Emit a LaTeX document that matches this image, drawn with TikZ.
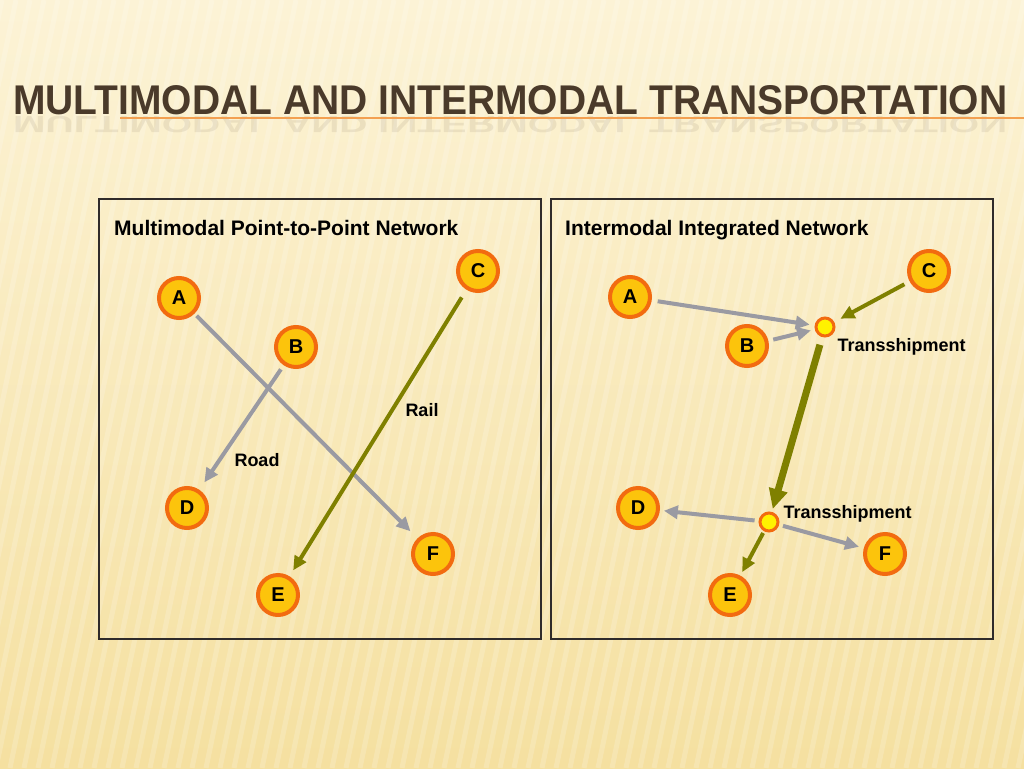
\documentclass[tikz,border=0pt]{standalone}
\usepackage{fontspec}
\setmainfont{Liberation Sans}
\usepackage{graphicx}
\usepackage{tikz}
\usetikzlibrary{arrows.meta}

\definecolor{bgtop}{HTML}{FCF3D6}
\definecolor{bgbot}{HTML}{F5E0A0}
\definecolor{titlebrown}{HTML}{4A3A2A}
\definecolor{ringorange}{HTML}{F26B10}
\definecolor{cityfill}{HTML}{FCC40C}
\definecolor{hubfill}{HTML}{FFF200}
\definecolor{roadgray}{HTML}{9A9AA2}
\definecolor{railolive}{HTML}{7F8000}
\definecolor{framegray}{HTML}{2F2B2B}

\begin{document}
\begin{tikzpicture}[x=1pt, y=-1pt,
	city/.style = {draw=ringorange, fill=cityfill, circle, line width=4pt, minimum size=40pt, inner sep=0pt, font=\bfseries\fontsize{20}{20}\selectfont},
	hub/.style = {draw=ringorange, fill=hubfill, circle, line width=3pt, minimum size=18pt, inner sep=0pt},
	road/.style = {draw=roadgray, line width=4pt, -{Triangle[length=14pt,width=13pt]}},
	rail/.style = {draw=railolive, line width=4pt, -{Triangle[length=14pt,width=13pt]}},
	label/.style = {font=\bfseries\fontsize{18}{18}\selectfont},
	panel/.style = {draw=framegray, line width=2pt}]
	% background
	\useasboundingbox (0,0) rectangle (1024,768);
	\fill[top color=bgtop, bottom color=bgbot] (0,0) rectangle (1024,768);
	\begin{scope}
		\clip (0,0) rectangle (1024,768);
		\foreach \x in {-200,-186,...,1100}
			\draw[white, opacity=0.18, line width=5pt] (\x,768) -- (\x+160,0);
	\end{scope}
	% title
	\node (title) [anchor=base west, inner sep=0pt] at (13,114) {\resizebox{994pt}{29pt}{\bfseries\color{titlebrown}MULTIMODAL AND INTERMODAL TRANSPORTATION}};
	\node (mirror) [anchor=base west, inner sep=0pt, opacity=0.09] at (13,116) {\resizebox{994pt}{!}{\scalebox{1}[-0.6]{\bfseries\color{titlebrown}MULTIMODAL AND INTERMODAL TRANSPORTATION}}};
	\draw[color=ringorange!55!bgbot, line width=1.5pt] (120,118) -- (1024,118);
	% panels
	\draw[panel] (99,199) rectangle (541,639);
	\draw[panel] (551,199) rectangle (993,639);
	\node (ltitle) [anchor=base west, inner sep=0pt, font=\bfseries\fontsize{21}{21}\selectfont] at (114,235) {Multimodal Point-to-Point Network};
	\node (rtitle) [anchor=base west, inner sep=0pt, font=\bfseries\fontsize{21}{21}\selectfont] at (565,235) {Intermodal Integrated Network};
	% left network
	\node (lA) [city] at (179,298) {A};
	\node (lB) [city] at (296,347) {B};
	\node (lC) [city] at (478,271) {C};
	\node (lD) [city] at (187,508) {D};
	\node (lE) [city] at (278,595) {E};
	\node (lF) [city] at (433,554) {F};
	\draw[road, shorten <=3pt, shorten >=10pt] (lA) -- (lF);
	\draw[road, shorten <=5pt, shorten >=9pt] (lB) -- (lD);
	\draw[rail, shorten <=9pt, shorten >=7pt] (lC) -- (lE);
	\node (rail) [label] at (422,410) {Rail};
	\node (road) [label] at (257,460) {Road};
	% right network
	\node (rA) [city] at (630,297) {A};
	\node (rB) [city] at (747,346) {B};
	\node (rC) [city] at (929,271) {C};
	\node (rD) [city] at (638,508) {D};
	\node (rE) [city] at (730,595) {E};
	\node (rF) [city] at (885,554) {F};
	\node (t1) [hub] at (825,327) {};
	\node (t2) [hub] at (769,522) {};
	\node (t1lab) [label, anchor=west] at (834,347) {Transshipment};
	\node (t2lab) [label, anchor=west] at (780,514) {Transshipment};
	\draw[road, shorten <=6pt, shorten >=5pt] (rA) -- (t1);
	\draw[road, shorten <=5pt, shorten >=4pt] (rB) -- (t1);
	\draw[rail, shorten <=6pt, shorten >=7pt] (rC) -- (t1);
	\draw[rail, line width=7pt, -{Triangle[length=20pt,width=18pt]}, shorten <=8pt, shorten >=3pt] (t1) -- (t2);
	\draw[road, shorten <=4pt, shorten >=4pt] (t2) -- (rD);
	\draw[road, shorten <=4pt, shorten >=5pt] (t2) -- (rF);
	\draw[rail, shorten <=2pt, shorten >=4pt] (t2) -- (rE);
\end{tikzpicture}
\end{document}
